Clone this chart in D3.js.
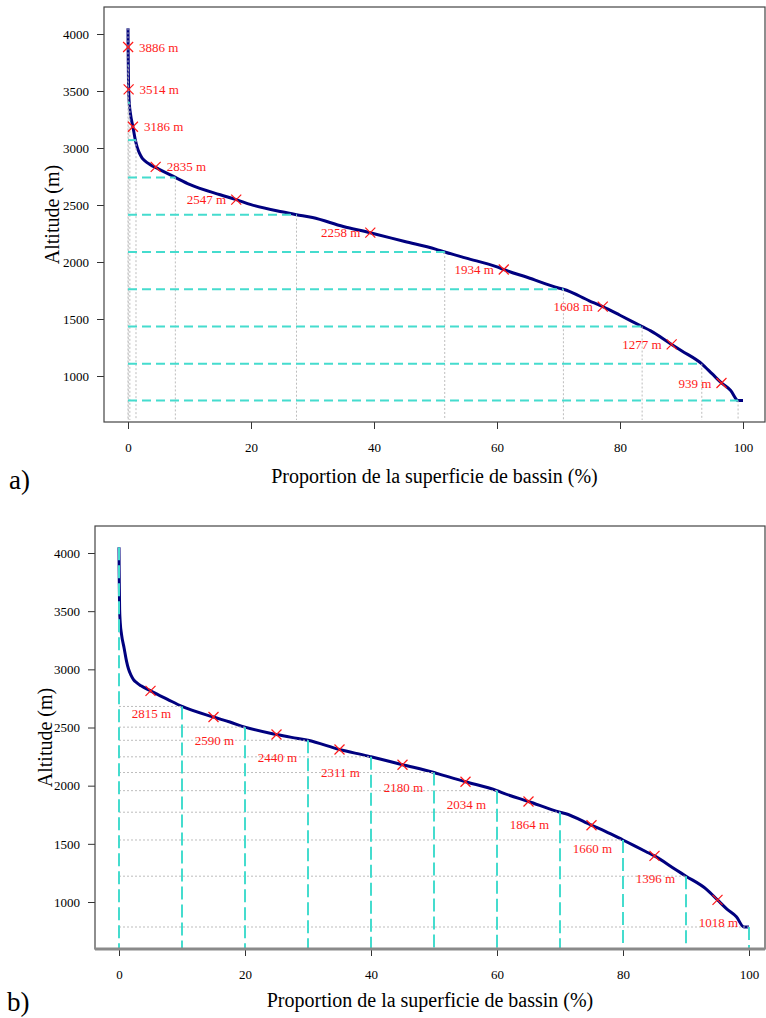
<!DOCTYPE html>
<html>
<head>
<meta charset="utf-8">
<script src="https://cdn.jsdelivr.net/npm/d3@7"></script>
<style>
html,body{margin:0;padding:0;background:#fff;}
svg{display:block;font-family:"Liberation Serif","Times New Roman",serif;}
</style>
</head>
<body>
<svg id="chart" width="766" height="1018"></svg>
<script>
// Hypsometric curve (percent of basin area above, altitude m)
const curvePct = [0, 0.02, 0.05, 0.1, 0.2, 0.4, 0.8, 1.2, 1.5, 1.9, 2.3, 2.8, 3.5, 5, 7.7, 10, 15, 17.6, 20, 25, 27.4, 30, 35, 39.4, 40, 45, 50, 51.5, 55, 60, 61.1, 65, 70, 70.8, 75, 77.2, 80, 83.6, 85, 88.4, 90, 93.3, 95, 96.5, 98, 99.2, 100];
const curveAlt = [4050, 3886, 3723, 3514, 3400, 3300, 3186, 3069, 3005, 2950, 2912, 2885, 2858, 2815, 2742, 2681, 2590, 2547, 2503, 2440, 2415, 2390, 2311, 2256, 2248, 2180, 2113, 2088, 2034, 1957, 1934, 1864, 1772, 1761, 1660, 1608, 1533, 1434, 1396, 1277, 1222, 1107, 1018, 939, 873, 785, 785];

// Panel a: equal altitude bands
const bandAltA = [785, 1107, 1434, 1761, 2088, 2415, 2742, 3069, 3396, 3723, 4050];
const bandPctA = [99.2, 93.3, 83.6, 70.8, 51.5, 27.4, 7.7, 1.3, 0.3, 0.05, 0];
const markerPctA = [0.02, 0.1, 0.8, 4.5, 17.6, 39.4, 61.1, 77.2, 88.4, 96.5];
const markerAltA = [3886, 3514, 3186, 2835, 2547, 2258, 1934, 1608, 1277, 939];
const markerSideA = ["right", "right", "right", "right", "left", "left", "left", "left", "left", "left"];

// Panel b: equal area deciles
const decilePctB = [0, 10, 20, 30, 40, 50, 60, 70, 80, 90, 100];
const decileAltB = [4050, 2681, 2503, 2390, 2248, 2113, 1957, 1772, 1533, 1222, 785];
const markerPctB = [5, 15, 25, 35, 45, 55, 65, 75, 85, 95];
const markerAltB = [2815, 2590, 2440, 2311, 2180, 2034, 1864, 1660, 1396, 1018];

const xTicks = [0, 20, 40, 60, 80, 100];
const yTicks = [1000, 1500, 2000, 2500, 3000, 3500, 4000];
const xTitle = "Proportion de la superficie de bassin (%)";
const yTitle = "Altitude (m)";
const panelTags = ["a)", "b)"];

const CYAN = "#45DCCE", GRAY = "#BDBDBD", NAVY = "#00007F", RED = "#FF1A1A";
const svg = d3.select("#chart");
const curve = curvePct.map((p, i) => [p, curveAlt[i]]);

function panel(cfg) {
  const g = svg.append("g");
  const x = d3.scaleLinear().domain([0, 100]).range(cfg.xr);
  const y = d3.scaleLinear().domain([1000, 4000]).range(cfg.yr);
  const B = cfg.box; // left, top, right, bottom

  const ax = g.append("g").attr("transform", `translate(0,${B[3]})`)
    .call(d3.axisBottom(x).tickValues(xTicks).tickSize(7).tickPadding(cfg.xPad).tickFormat(d3.format("d")));
  const ay = g.append("g").attr("transform", `translate(${B[0]},0)`)
    .call(d3.axisLeft(y).tickValues(yTicks).tickSize(7).tickPadding(cfg.yPad).tickFormat(d3.format("d")));
  [ax, ay].forEach(a => {
    a.select(".domain").remove();
    a.selectAll("line").attr("stroke", "#333").attr("stroke-width", 1);
    a.selectAll("text").attr("font-family", "Liberation Serif, serif").attr("font-size", 13).attr("fill", "#000");
  });

  // curve
  g.append("path").datum(curve)
    .attr("d", d3.line().curve(d3.curveMonotoneX).x(d => x(d[0])).y(d => y(d[1])))
    .attr("fill", "none").attr("stroke", NAVY).attr("stroke-width", 3).attr("stroke-linejoin", "round");

  cfg.overlay(g, x, y, B);

  // markers
  cfg.mPct.forEach((p, i) => {
    const cx = x(p), cy = y(cfg.mAlt[i]), s = 5;
    g.append("path").attr("d", `M${cx - s},${cy - s}L${cx + s},${cy + s}M${cx - s},${cy + s}L${cx + s},${cy - s}`)
      .attr("stroke", RED).attr("stroke-width", 1.2).attr("fill", "none");
    const t = g.append("text").text(cfg.mAlt[i] + " m").attr("fill", RED).attr("font-size", 13);
    cfg.label(t, cx, cy, i);
  });

  // box
  g.append("rect").attr("x", B[0]).attr("y", B[1]).attr("width", B[2] - B[0]).attr("height", B[3] - B[1])
    .attr("fill", "none").attr("stroke", "#444").attr("stroke-width", 1.2);
  if (cfg.thickBottom) {
    g.append("line").attr("x1", B[0]).attr("x2", B[2]).attr("y1", B[3]).attr("y2", B[3])
      .attr("stroke", "#8a8a8a").attr("stroke-width", 3);
  }

  // titles
  g.append("text").text(xTitle).attr("x", (B[0] + B[2]) / 2).attr("y", cfg.xTitleY)
    .attr("text-anchor", "middle").attr("font-size", 20);
  g.append("text").text(yTitle)
    .attr("transform", `translate(${cfg.yTitleX},${(B[1] + B[3]) / 2}) rotate(-90)`)
    .attr("text-anchor", "middle").attr("font-size", 20);
  g.append("text").text(cfg.tag).attr("x", cfg.tagPos[0]).attr("y", cfg.tagPos[1])
    .attr("font-size", 27);
}

// Panel a
panel({
  xr: [128, 743], yr: [376, 34], box: [104, 7, 765, 422],
  xPad: 14, yPad: 8, xTitleY: 483, yTitleX: 59, tag: panelTags[0], tagPos: [9, 489],
  mPct: markerPctA, mAlt: markerAltA,
  overlay: (g, x, y, B) => {
    bandAltA.forEach((a, i) => {
      g.append("line").attr("x1", x(bandPctA[i])).attr("x2", x(bandPctA[i]))
        .attr("y1", y(a)).attr("y2", B[3] - 2)
        .attr("stroke", GRAY).attr("stroke-width", 1).attr("stroke-dasharray", "2,2");
    });
    bandAltA.forEach((a, i) => {
      g.append("line").attr("x1", x(0)).attr("x2", x(bandPctA[i]))
        .attr("y1", y(a)).attr("y2", y(a))
        .attr("stroke", CYAN).attr("stroke-width", 2).attr("stroke-dasharray", "9,5");
    });
  },
  label: (t, cx, cy, i) => {
    if (markerSideA[i] === "right") t.attr("x", cx + 11).attr("text-anchor", "start");
    else t.attr("x", cx - 10).attr("text-anchor", "end");
    t.attr("y", cy).attr("dy", "0.35em");
  }
});

// Panel b
panel({
  xr: [119, 749], yr: [902, 553], box: [95, 526, 765, 949],
  xPad: 14, yPad: 8, xTitleY: 1007, yTitleX: 52, tag: panelTags[1], tagPos: [7, 1011],
  mPct: markerPctB, mAlt: markerAltB, thickBottom: true,
  overlay: (g, x, y, B) => {
    decileAltB.forEach((a, i) => {
      g.append("line").attr("x1", x(0)).attr("x2", x(decilePctB[i]))
        .attr("y1", y(a)).attr("y2", y(a))
        .attr("stroke", GRAY).attr("stroke-width", 1).attr("stroke-dasharray", "2,2");
    });
    decilePctB.forEach((p, i) => {
      g.append("line").attr("x1", x(p)).attr("x2", x(p))
        .attr("y1", y(decileAltB[i])).attr("y2", B[3])
        .attr("stroke", CYAN).attr("stroke-width", 2).attr("stroke-dasharray", "13,5");
    });
  },
  label: (t, cx, cy) => {
    t.attr("x", cx + 1).attr("y", cy + 23).attr("dy", "0.35em").attr("text-anchor", "middle");
  }
});
</script>
</body>
</html>
